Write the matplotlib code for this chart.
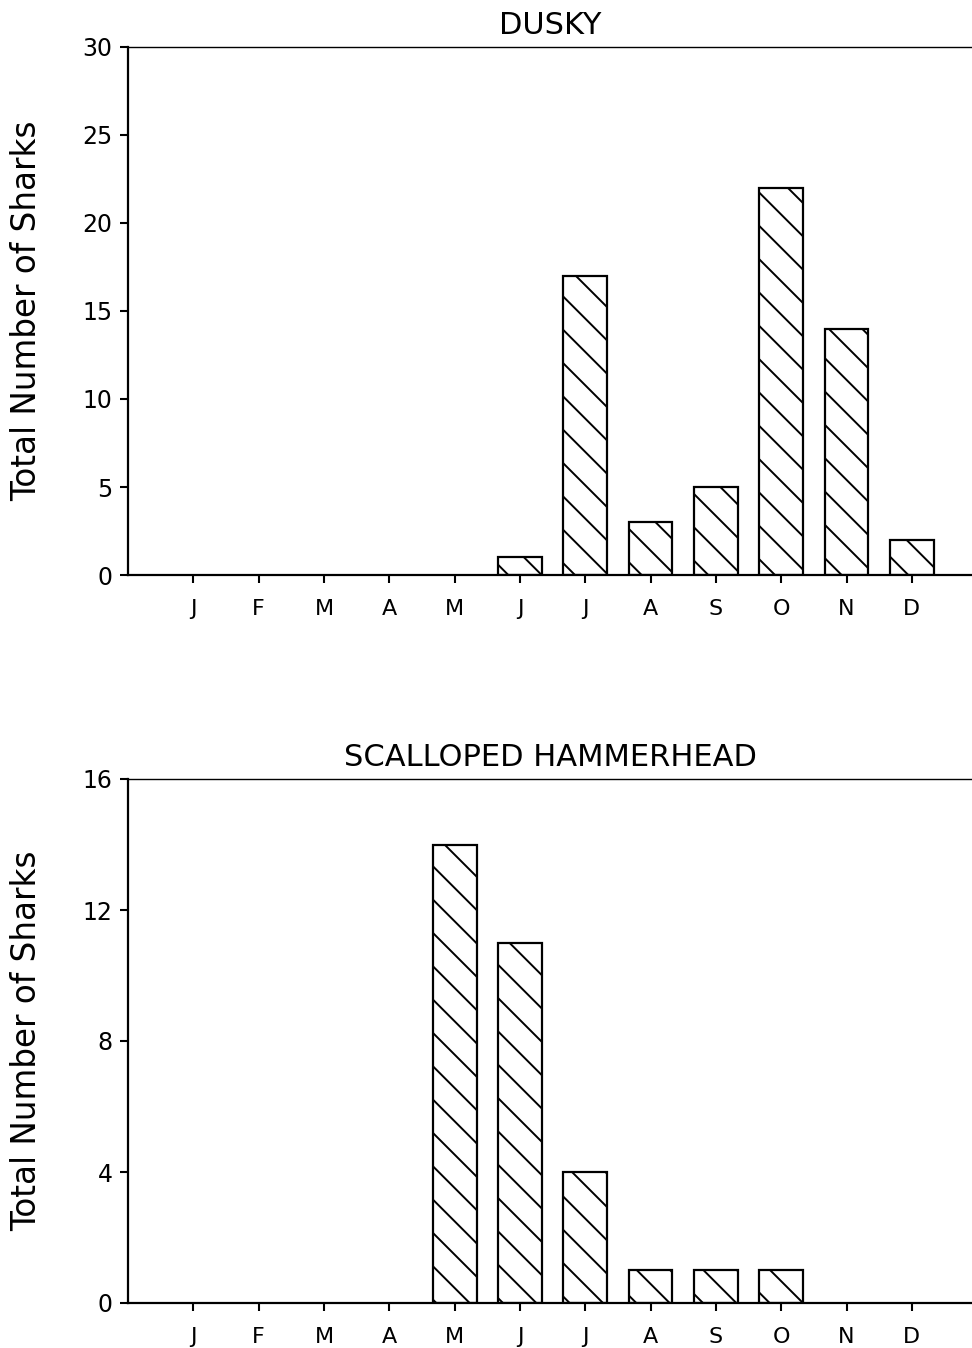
import matplotlib
matplotlib.use("Agg")
import matplotlib.pyplot as plt

months = ["J", "F", "M", "A", "M", "J", "J", "A", "S", "O", "N", "D"]
dusky = [0, 0, 0, 0, 0, 1, 17, 3, 5, 22, 14, 2]
hammer = [0, 0, 0, 0, 14, 11, 4, 1, 1, 1, 0, 0]
titles = ["DUSKY", "SCALLOPED HAMMERHEAD"]
ylims = [30, 16]
yticks = [[0, 5, 10, 15, 20, 25, 30], [0, 4, 8, 12, 16]]
ylabel = "Total Number of Sharks"

DPI = 100
plt.rcParams['font.family'] = ['DejaVu Sans']
plt.rcParams['hatch.linewidth'] = 1.4
plt.rcParams['hatch.color'] = 'black'

fig = plt.figure(figsize=(972 / DPI, 1348 / DPI), dpi=DPI)
rects = [[128 / 972, 1 - 575 / 1348, 1 - 128 / 972, (575 - 47) / 1348],
         [128 / 972, 1 - 1303 / 1348, 1 - 128 / 972, (1303 - 779) / 1348]]

for i, (data, title) in enumerate(zip([dusky, hammer], titles)):
    ax = fig.add_axes(rects[i])
    x = list(range(1, 13))
    for xi, v in zip(x, data):
        if v > 0:
            ax.bar(xi, v, width=0.67, facecolor='white', edgecolor='black',
                   linewidth=1.6, hatch='\\')
    ax.set_xlim(0, 12.92)
    ax.set_ylim(0, ylims[i])
    ax.set_xticks(x)
    ax.set_xticklabels(months, fontsize=16)
    ax.set_yticks(yticks[i])
    ax.tick_params(axis='y', labelsize=17, length=6, width=1.5, direction='out', pad=5)
    ax.tick_params(axis='x', length=6, width=1.5, direction='out', pad=11)
    ax.spines['right'].set_visible(False)
    for s in ['left', 'bottom']:
        ax.spines[s].set_linewidth(1.6)
    ax.spines['top'].set_linewidth(1.0)
    ax.set_title(title, fontsize=22, pad=9)
    ax.set_ylabel(ylabel, fontsize=23.5)
    ax.yaxis.set_label_coords(-0.100, 0.5)

fig.savefig("out.png", dpi=DPI, facecolor='white')
